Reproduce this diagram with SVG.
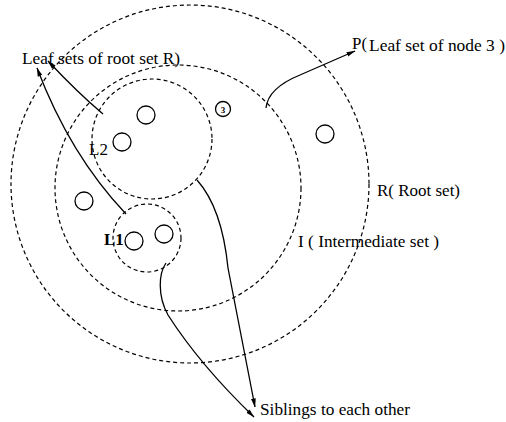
<svg xmlns="http://www.w3.org/2000/svg" width="506" height="422" viewBox="0 0 506 422">
  <style>
    .set { fill: none; stroke: #000; stroke-width: 1.2; stroke-dasharray: 4 3; }
    .node { fill: #fff; stroke: #000; stroke-width: 1.3; }
    .conn { fill: none; stroke: #000; stroke-width: 1.3; }
    text { font-family: "Liberation Serif", "Times New Roman", serif; font-size: 17px; fill: #000; }
  </style>
  <defs>
    <marker id="arrow" markerWidth="9" markerHeight="6" refX="8.5" refY="3" orient="auto" markerUnits="userSpaceOnUse">
      <path d="M0,0.6 L9,3 L0,5.4 Z" fill="#000"/>
    </marker>
  </defs>
  <rect width="506" height="422" fill="#fff"/>

  <!-- set boundaries -->
  <g id="root-set"><circle class="set" cx="190" cy="184" r="179"/></g>
  <g id="intermediate-set"><circle class="set" cx="178" cy="188" r="123"/></g>
  <g id="leaf-set-L2"><circle class="set" cx="152" cy="139" r="60"/></g>
  <g id="leaf-set-L1"><circle class="set" cx="147" cy="238" r="34"/></g>

  <!-- peers -->
  <g id="node-a"><circle class="node" cx="146" cy="115" r="9"/></g>
  <g id="node-b"><circle class="node" cx="122" cy="142" r="9"/></g>
  <g id="node-3"><circle class="node" cx="223" cy="109" r="7.5"/><text x="223" y="112.5" text-anchor="middle" style="font-size:9px;font-weight:bold">3</text></g>
  <g id="node-c"><circle class="node" cx="325" cy="134" r="9"/></g>
  <g id="node-d"><circle class="node" cx="84" cy="201" r="9"/></g>
  <g id="node-e"><circle class="node" cx="134" cy="241" r="9"/></g>
  <g id="node-f"><circle class="node" cx="164" cy="234" r="9"/></g>

  <!-- connectors -->
  <g id="connectors">
    <path class="conn" d="M103,114 Q78,93 48,61" marker-end="url(#arrow)"/>
    <path class="conn" d="M126,214 Q70,155 37,68" marker-end="url(#arrow)"/>
    <path class="conn" d="M266,108 Q268,88 300,75 L355,51" marker-end="url(#arrow)"/>
    <path class="conn" d="M197,180 Q222,208 228,268 L255,407" marker-end="url(#arrow)"/>
    <path class="conn" d="M166,263 C159,273 157,295 168,315 Q200,365 254,417" marker-end="url(#arrow)"/>
  </g>

  <!-- labels -->
  <g id="labels">
    <text x="22" y="64" textLength="158" lengthAdjust="spacingAndGlyphs">Leaf sets of root set R)</text>
    <text x="352" y="49" textLength="15" lengthAdjust="spacingAndGlyphs">P(</text>
    <text x="369" y="51" textLength="136" lengthAdjust="spacingAndGlyphs">Leaf set of node 3 )</text>
    <text x="377" y="196" textLength="83" lengthAdjust="spacingAndGlyphs">R( Root set)</text>
    <text x="298" y="247" textLength="141" lengthAdjust="spacingAndGlyphs">I ( Intermediate set )</text>
    <text x="89" y="155">L2</text>
    <text x="104" y="245" style="font-weight:bold">L1</text>
    <text x="260" y="415" textLength="150" lengthAdjust="spacingAndGlyphs">Siblings to each other</text>
  </g>
</svg>
